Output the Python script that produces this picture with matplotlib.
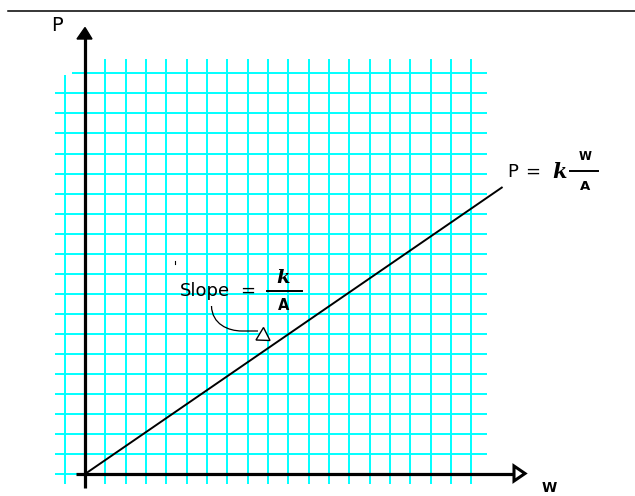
import matplotlib
matplotlib.use("Agg")
import matplotlib.pyplot as plt
from matplotlib.patches import Polygon
from matplotlib.path import Path
from matplotlib.patches import PathPatch

# ---- data (grid units) ----
grid_w = list(range(-1, 20))        # vertical graph-paper lines
grid_p = list(range(0, 21))         # horizontal graph-paper lines
w_line = [0.0, 20.5]                # W values of the straight line
p_line = [0.0, 14.3]                # P = (k/A) * W

W_PX, H_PX = 635, 496
SX, SY = 20.33, 20.03               # pixels per grid unit
OX, OY = 85.0, 474.0                # pixel position of origin

fig = plt.figure(figsize=(W_PX / 100, H_PX / 100), dpi=100)
ax = fig.add_axes([0, 0, 1, 1])
ax.set_xlim(-OX / SX, (W_PX - OX) / SX)
ax.set_ylim((OY - H_PX) / SY, OY / SY)
ax.axis("off")

cyan = "#00FFFF"
# vertical grid lines
ymax = [19.92 if w == -1 else 20.72 for w in grid_w]
ax.vlines(grid_w, -0.5, ymax, colors=cyan, lw=1.4, zorder=1)
# horizontal grid lines
xmin = [-0.65 if p == 20 else -1.48 for p in grid_p]
ax.hlines(grid_p, xmin, 19.76, colors=cyan, lw=1.4, zorder=1)

# axes
ax.plot([0, 0], [-0.7, 21.8], color="black", lw=2.3, zorder=3, solid_capstyle="butt")
ax.plot([-0.44, 21.05], [0, 0], color="black", lw=2.3, zorder=3, solid_capstyle="butt")

# the line P = k W / A
ax.plot(w_line, p_line, color="black", lw=1.4, zorder=4)

# ---- annotation overlay in pixel coords ----
ann = fig.add_axes([0, 0, 1, 1])
ann.set_xlim(0, W_PX)
ann.set_ylim(H_PX, 0)
ann.axis("off")
ann.patch.set_alpha(0)

# top rule
ann.plot([8, 635], [10.5, 10.5], color="black", lw=1.1)

# arrowheads
ann.add_patch(Polygon([[85, 27.5], [77, 39], [92, 39]], closed=True,
                      fc="black", ec="black", lw=1, zorder=5))
ann.add_patch(Polygon([[525, 473.5], [514, 466], [514, 481]], closed=True,
                      fc="white", ec="black", lw=2.2, zorder=5))

# axis labels
ann.text(56.5, 25.5, "P", fontsize=14, ha="center", va="center", family="DejaVu Sans")
ann.text(549, 487.5, "W", fontsize=10, ha="center", va="center",
         fontweight="bold", family="DejaVu Sans")

# formula P = k W/A
ann.text(512.5, 172, "P", fontsize=13, ha="center", va="center", family="DejaVu Sans")
ann.text(532.5, 172, "=", fontsize=13, ha="center", va="center", family="DejaVu Sans")
ann.text(560, 172, "k", fontsize=15, ha="center", va="center",
         fontweight="bold", style="italic", family="DejaVu Serif")
ann.plot([570, 598], [171, 171], color="black", lw=1.4)
ann.text(585, 157, "W", fontsize=8.5, ha="center", va="center",
         fontweight="bold", family="DejaVu Sans")
ann.text(585, 186.5, "A", fontsize=9.5, ha="center", va="center",
         fontweight="bold", family="DejaVu Sans")

# Slope = k/A
ann.text(180, 291, "Slope", fontsize=13, ha="left", va="center", family="DejaVu Sans")
ann.text(247.5, 291, "=", fontsize=13, ha="center", va="center", family="DejaVu Sans")
ann.plot([267, 302], [291, 291], color="black", lw=1.4)
ann.text(283, 278, "k", fontsize=14, ha="center", va="center",
         fontweight="bold", style="italic", family="DejaVu Serif")
ann.text(284, 305, "A", fontsize=10.5, ha="center", va="center",
         fontweight="bold", family="DejaVu Sans")

# small stray mark
ann.plot([175, 175], [260.5, 263.5], color="black", lw=0.8)

# curved pointer
verts = [(211.5, 306), (212, 324), (228, 331), (242, 331), (258, 331)]
codes = [Path.MOVETO, Path.CURVE4, Path.CURVE4, Path.CURVE4, Path.LINETO]
ann.add_patch(PathPatch(Path(verts, codes), fc="none", ec="black", lw=0.9))
ann.add_patch(Polygon([[263.5, 327.5], [256, 340], [270, 340.5]], closed=True,
                      fc="white", ec="black", lw=1.0, zorder=5))

fig.savefig("out.png", dpi=100)
